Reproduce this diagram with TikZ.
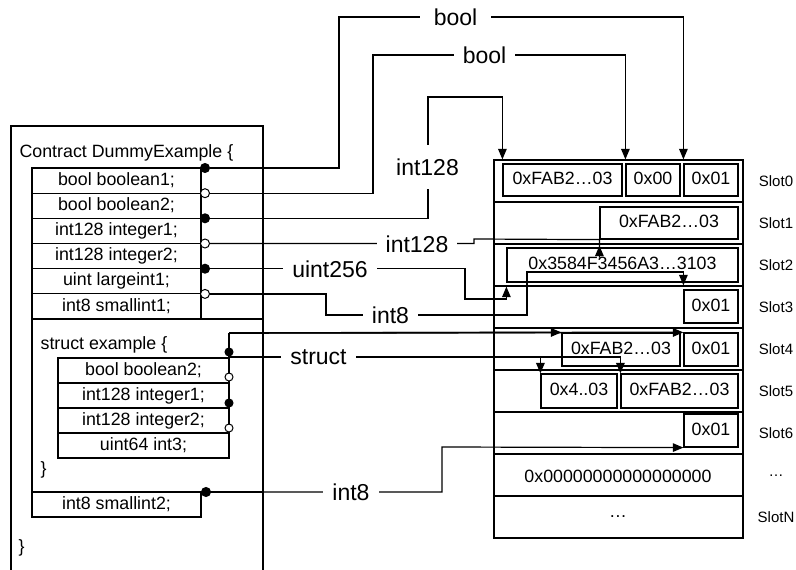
\documentclass[tikz,border=0pt]{standalone}
\usepackage{fontspec}
\setmainfont{Liberation Sans}
\usetikzlibrary{arrows.meta}
\begin{document}
\begin{tikzpicture}[x=1pt,y=-1pt,line width=1.2pt,
  ftxt/.style={font=\fontsize{17.8}{20}\selectfont},
  cell/.style={draw,ftxt,inner sep=0pt,text height=12.7pt,text depth=3.5pt},
  fieldbox/.style={cell,minimum width=169pt,minimum height=25.17pt},
  sfield/.style={cell,minimum width=171pt,minimum height=25pt},
  slotbox/.style={draw,minimum width=249pt,minimum height=42pt,inner sep=0pt},
  lbl/.style={fill=white,font=\fontsize{23}{26}\selectfont,inner xsep=9pt,inner ysep=2pt},
  slotlbl/.style={font=\fontsize{15}{17}\selectfont},
  dotf/.style={circle,draw,fill=black,minimum size=9pt,inner sep=0pt,line width=1pt},
  doto/.style={circle,draw,fill=white,minimum size=9pt,inner sep=0pt,line width=1pt},
  sdotf/.style={dotf,minimum size=8pt},
  sdoto/.style={doto,minimum size=8pt},
  arr/.style={-{Triangle[width=8.5pt,length=10.5pt]}},
  sline/.style={line width=1.6pt},
  plain/.style={ftxt,anchor=west,inner sep=0pt}
]
\useasboundingbox (0,0) rectangle (796,570);

% ---------- left panel ----------
\draw (11,570) -- (11,126) -- (263,126) -- (263,570);
\node[plain] (title) at (19,153) {Contract DummyExample \{};

\node[fieldbox] (f1) at (116.5,180.6) {bool boolean1;};
\node[fieldbox] (f2) at (116.5,205.8) {bool boolean2;};
\node[fieldbox] (f3) at (116.5,230.9) {int128 integer1;};
\node[fieldbox] (f4) at (116.5,256.1) {int128 integer2;};
\node[fieldbox] (f5) at (116.5,281.3) {uint largeint1;};
\node[fieldbox] (f6) at (116.5,306.4) {int8 smallint1;};

\node[draw,minimum width=231pt,minimum height=173pt,inner sep=0pt] (sreg) at (147.5,405.5) {};
\node[plain] (stitle) at (40,345) {struct example \{};
\node[sfield] (s1) at (143.5,370.5) {bool boolean2;};
\node[sfield] (s2) at (143.5,395.5) {int128 integer1;};
\node[sfield] (s3) at (143.5,420.5) {int128 integer2;};
\node[sfield] (s4) at (143.5,445.5) {uint64 int3;};
\node[plain] (sclose) at (40,470) {\}};

\node[fieldbox,minimum height=25pt] (f7) at (116.5,504.5) {int8 smallint2;};
\node[plain] (close) at (18,548) {\}};

% ---------- right panel ----------
\foreach \k in {0,...,8} \node[slotbox] (slot\k) at (618.5,{181+42*\k}) {};

\node[cell,minimum width=119pt,minimum height=32pt] (b00) at (562.5,180) {0xFAB2…03};
\node[cell,minimum width=54pt,minimum height=32pt] (b01) at (653,180) {0x00};
\node[cell,minimum width=54pt,minimum height=32pt] (b02) at (711,180) {0x01};
\node[cell,minimum width=138pt,minimum height=32pt] (b1) at (669,223) {0xFAB2…03};
\node[cell,minimum width=231pt,minimum height=34pt] (b2) at (622.5,265) {0x3584F3456A3…3103};
\node[cell,minimum width=54pt,minimum height=33pt] (b3) at (711,306.5) {0x01};
\node[cell,minimum width=118pt,minimum height=33pt] (b40) at (621,349.5) {0xFAB2…03};
\node[cell,minimum width=54pt,minimum height=33pt] (b41) at (711,349.5) {0x01};
\node[cell,minimum width=76pt,minimum height=34pt] (b50) at (579,391) {0x4..03};
\node[cell,minimum width=117pt,minimum height=34pt] (b51) at (679.5,391) {0xFAB2…03};
\node[cell,minimum width=54pt,minimum height=33pt] (b6) at (711,430.5) {0x01};
\node[ftxt] (z7) at (618,476) {0x00000000000000000};
\node[ftxt] (z8) at (618,517) {…};

\node[slotlbl] (n0) at (776,181) {Slot0};
\node[slotlbl] (n1) at (776,223) {Slot1};
\node[slotlbl] (n2) at (776,265) {Slot2};
\node[slotlbl] (n3) at (776,307) {Slot3};
\node[slotlbl] (n4) at (776,349) {Slot4};
\node[slotlbl] (n5) at (776,391) {Slot5};
\node[slotlbl] (n6) at (776,433) {Slot6};
\node[slotlbl] (n7) at (776,476) {…};
\node[slotlbl] (n8) at (776,517) {SlotN};

% ---------- dots ----------
\node[dotf] (d1) at (205,168) {};
\node[doto] (d2) at (205,193.2) {};
\node[dotf] (d3) at (205,218.3) {};
\node[doto] (d4) at (205,243.5) {};
\node[dotf] (d5) at (205,268.7) {};
\node[doto] (d6) at (205,293.9) {};
\node[dotf] (d7) at (206,492) {};

% ---------- connectors ----------
\draw[arr] (d1) -| (339,17) -| (b02.west |- slot0.north);
\draw[arr] (d2) -| (373,55) -| (b01.west |- slot0.north);
\draw[arr] (d3) -| (428,97) -| (b00.west |- slot0.north);
\draw[arr] (d4) -| (474,239) -- (b1.south west) -- ++(0,18) -- ++(0,-12);
\draw[arr] (d5) -| (465,299) -| (b2.west |- slot2.south);
\draw[arr] (d6) -| (326,315) -| (527,272) -| (b3.west |- slot3.north);
\draw[arr] (d7) -| (442,447) -- (b6.south west);

\coordinate (c1) at (229,333);
\coordinate (c2) at (229,357);
\draw[sline] (c1) -- (229,458);
\draw[sline,arr] (c1) -- (b40.north west);
\draw[sline,arr] (c1) -- (b41.north west);
\draw[sline,arr] (c2) -| (b50.north west);
\draw[sline,arr] (c2) -| (b51.north west);

\node[sdotf] (e1) at (229,352) {};
\node[sdoto] (e2) at (229,377) {};
\node[sdotf] (e3) at (229,403) {};
\node[sdoto] (e4) at (229,428) {};

% ---------- labels ----------
\node[lbl,inner xsep=14pt] (l1) at (455.5,17) {bool};
\node[lbl] (l2) at (484.5,55) {bool};
\node[lbl,inner xsep=2pt,inner ysep=14pt] (l3) at (427.5,167) {int128};
\node[lbl] (l4) at (417,244) {int128};
\node[lbl] (l5) at (330,269) {uint256};
\node[lbl] (l6) at (390.5,315) {int8};
\node[lbl] (l7) at (351,492) {int8};
\node[lbl] (l8) at (318.5,357) {struct};
\end{tikzpicture}
\end{document}
